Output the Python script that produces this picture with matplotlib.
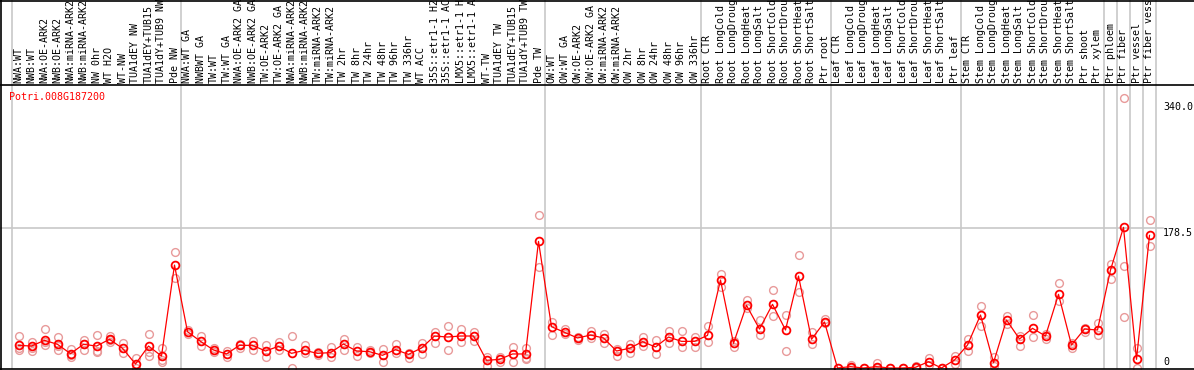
import numpy as np
import matplotlib
matplotlib.use("Agg")
import matplotlib.pyplot as plt
from matplotlib.lines import Line2D
import matplotlib.transforms as mtransforms

# Sample labels (as shown, truncated in the source chart)
labels = [
    "NWA:WT", "NWB:WT", "NWA:OE-ARK2", "NWB:OE-ARK2", "NWA:miRNA-ARK2", "NWB:miRNA-ARK2",
    "NW 0hr", "WT H2O", "WT-NW", "TUA1dEY NW", "TUA1dEY+TUB15", "TUA1dY+TUB9 NW", "Pde NW",
    "NWA:WT GA", "NWBWT GA", "TW:WT", "TW:WT GA", "NWA:OE-ARK2 GA", "NWB:OE-ARK2 GA",
    "TW:OE-ARK2", "TW:OE-ARK2 GA", "NWA:miRNA-ARK2", "NWB:miRNA-ARK2", "TW:miRNA-ARK2",
    "TW:miRNA-ARK2", "TW 2hr", "TW 8hr", "TW 24hr", "TW 48hr", "TW 96hr", "TW 336hr",
    "WT ACC", "35S::etr1-1 H2", "35S::etr1-1 AC", "LMX5::etr1-1 H", "LMX5::etr1-1 A",
    "WT-TW", "TUA1dEY TW", "TUA1dEY+TUB15", "TUA1dY+TUB9 TW", "Pde TW",
    "OW:WT", "OW:WT GA", "OW:OE-ARK2", "OW:OE-ARK2 GA", "OW:miRNA-ARK2", "OW:miRNA-ARK2",
    "OW 2hr", "OW 8hr", "OW 24hr", "OW 48hr", "OW 96hr", "OW 336hr",
    "Root CTR", "Root LongCold", "Root LongDroug", "Root LongHeat", "Root LongSalt",
    "Root ShortCold", "Root ShortDrou", "Root ShortHeat", "Root ShortSalt", "Ptr root",
    "Leaf CTR", "Leaf LongCold", "Leaf LongDroug", "Leaf LongHeat", "Leaf LongSalt",
    "Leaf ShortCold", "Leaf ShortDrou", "Leaf ShortHeat", "Leaf ShortSalt", "Ptr leaf",
    "Stem CTR", "Stem LongCold", "Stem LongDroug", "Stem LongHeat", "Stem LongSalt",
    "Stem ShortCold", "Stem ShortDrou", "Stem ShortHeat", "Stem ShortSalt",
    "Ptr shoot", "Ptr xylem", "Ptr phloem", "Ptr fiber", "Ptr vessel", "Ptr fiber vess",
]

# mean expression per sample
means = [
    28.9, 28.0, 35.3, 30.2, 18.3, 30.2, 28.0, 36.6, 25.1, 5.1, 28.0, 15.3, 131.3,
    46.3, 34.0, 23.0, 17.9, 28.9, 28.9, 21.7, 27.6, 18.7, 22.5, 18.7, 19.6, 30.6,
    21.7, 20.8, 16.2, 23.4, 17.4, 25.5, 40.8, 39.5, 40.8, 40.8, 9.8, 11.0, 17.9,
    17.9, 161.5,
    52.7, 45.5, 38.3, 42.0, 38.3, 21.7, 25.1, 33.6, 26.8, 39.5, 34.0, 34.0,
    41.6, 112.2, 31.5, 79.9, 49.7, 81.2, 48.5, 117.3, 36.6, 58.7,
    0.0, 1.7, 0.0, 1.7, 0.0, 0.0, 0.9, 8.0, 0.0, 10.2,
    29.3, 67.6, 6.8, 61.2, 37.0, 50.6, 40.8, 94.0, 29.3, 49.7, 48.5,
    125.0, 179.4, 11.0, 169.2,
]

# individual replicates per sample
replicates = [
    [40.8, 23.0, 26.0], [33.6, 22.0, 26.0], [49.7, 28.9, 33.0], [39.5, 22.5, 28.0],
    [24.0, 14.4, 16.0], [35.7, 23.4, 30.0], [42.0, 20.8, 22.0], [40.8, 33.6, 36.0],
    [31.5, 18.7], [12.3, 0.0], [42.9, 15.7, 20.0], [25.0, 8.0, 10.0], [147.5, 115.0],
    [48.0, 44.0], [40.8, 28.5], [26.0, 21.0], [22.0, 13.6], [31.0, 26.0],
    [34.9, 23.4], [29.3, 13.6], [33.6, 23.0], [40.8, 0.0], [29.3, 18.7], [21.0, 16.0],
    [26.3, 13.6], [36.6, 23.0], [27.2, 15.3], [23.0, 18.5], [24.0, 7.6], [30.2, 19.6],
    [19.6, 13.2], [31.5, 17.4], [45.5, 32.3], [53.6, 23.0], [49.7, 32.7], [46.3, 34.9],
    [14.4, 3.0], [14.0, 8.0], [27.2, 8.0], [25.0, 11.0, 13.0], [195.0, 128.4],
    [59.0, 42.5], [49.7, 42.9], [40.0, 36.0], [46.8, 38.3], [43.8, 31.5], [24.0, 15.7],
    [30.6, 18.7], [39.1, 28.0], [35.7, 17.4], [46.8, 31.5], [47.6, 27.2], [39.9, 27.2],
    [53.6, 33.6], [119.9, 102.9], [34.4, 27.2], [86.7, 76.0], [61.2, 42.0],
    [99.5, 66.3], [67.6, 21.7], [144.1, 96.9], [46.3, 30.2], [61.9, 57.0],
    [0.0], [3.8, 0.0], [0.0], [6.8, 0.0], [0.0], [0.0], [2.5, 0.0], [13.2, 4.0],
    [0.0], [15.7, 5.1],
    [36.6, 21.7], [79.0, 54.0], [14.4, 3.0], [66.7, 55.7], [40.8, 28.5], [67.2, 39.9],
    [44.0, 37.0], [108.0, 85.8], [32.0, 26.0], [51.0, 46.0], [57.0, 42.0],
    [132.6, 113.5], [343.8, 130.5, 64.6], [26.0, 0.0], [188.7, 155.5],
]

# group boundaries (number of samples before each separator)
group_breaks = [0, 13, 41, 53, 63, 73, 84, 85, 86, 87, 88]
gene = "Potri.008G187200"
right_ticks = ["340.0", "178.5", "0"]
mid_value = 178.5

W, H = 1194, 370
fig = plt.figure(figsize=(W / 100, H / 100), dpi=100)
ax_l, ax_r, ax_t, ax_b = 12, 1156, 85, 368
ax = fig.add_axes([ax_l / W, (H - ax_b) / H, (ax_r - ax_l) / W, (ax_b - ax_t) / H])
ax.set_xlim(-0.5, len(labels) - 0.5)
ax.set_ylim(0, 361)
ax.axis("off")

font = "DejaVu Sans Mono"
grid_c = "#c8c8c8"
ax_h = ax_b - ax_t

# group separators, running up through the label area
for b in group_breaks:
    ax.axvline(b - 0.5, ymin=0, ymax=ax_b / ax_h, color=grid_c, lw=1.2, clip_on=False, zorder=1)

# middle gridline, running to the value labels
ax.axhline(mid_value, xmin=-0.01, xmax=(1163 - ax_l) / (ax_r - ax_l), color=grid_c,
           lw=1.2, clip_on=False, zorder=1)

# frame lines in figure pixels
def hline(y, x0=0, x1=W):
    fig.add_artist(Line2D([x0 / W, x1 / W], [(H - y) / H] * 2, color="black", lw=1.2))

hline(0.5)
hline(85)
hline(368.5)
fig.add_artist(Line2D([1 / W, 1 / W], [0, 1], color="black", lw=1.2))

x = np.arange(len(labels))

# replicates
for i, reps in enumerate(replicates):
    ax.plot([i] * len(reps), reps, "o", ms=5.6, mfc="none", mec="#e89a9a",
            mew=1.0, clip_on=False, zorder=2)

# mean line + markers
ax.plot(x, means, "-", color="red", lw=0.9, clip_on=False, zorder=3)
ax.plot(x, means, "o", ms=5.6, mfc="none", mec="red", mew=1.3, clip_on=False, zorder=4)

# column labels
trans = mtransforms.blended_transform_factory(ax.transData, ax.transAxes)
for i, lab in enumerate(labels):
    ax.text(i, 1 + 2 / ax_h, lab, rotation=90, ha="center", va="bottom", transform=trans,
            fontsize=7.2, family=font, color="black", clip_on=False)

fig.text(9 / W, (H - 97) / H, gene, color="red", fontsize=7.2, family=font,
         ha="left", va="center")

for lab, yp in zip(right_ticks, [107, 233, 362]):
    fig.text(1163 / W, (H - yp) / H, lab, color="black", fontsize=7.2, family=font,
             ha="left", va="center")

fig.savefig("out.png", dpi=100)
